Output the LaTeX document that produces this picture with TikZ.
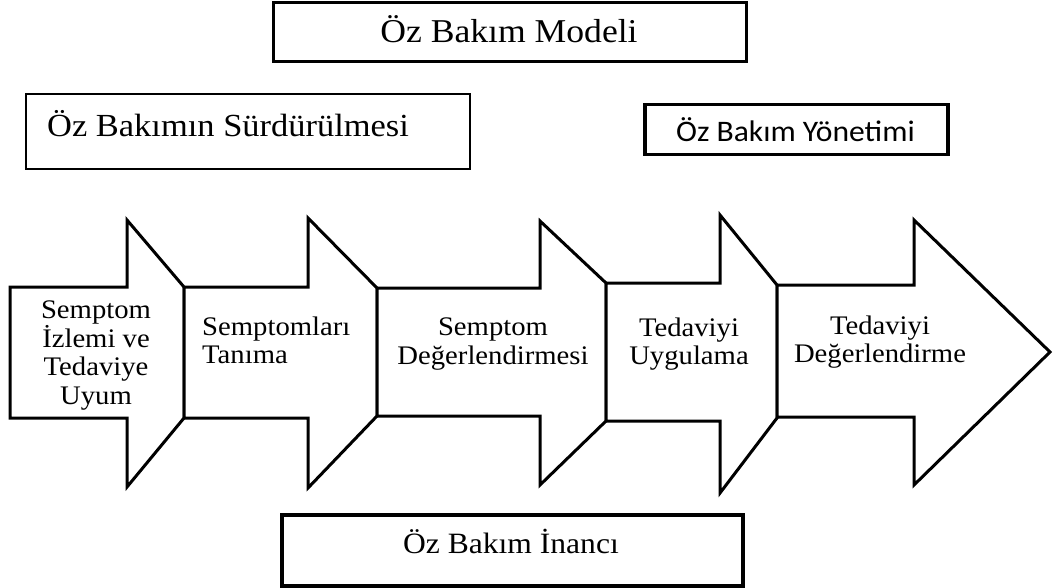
\documentclass[tikz,border=0pt]{standalone}
\usepackage{fontspec}
\setmainfont{Liberation Serif}[FakeStretch=1.07]
\newfontfamily\calibfont{Carlito}[FakeStretch=1.06]
\newcommand\arrfont{\fontsize{26.8}{28.5}\selectfont\lineskiplimit=-100pt\relax}
\begin{document}
\begin{tikzpicture}[x=1pt,y=-1pt,line join=miter]
\tikzset{
  arrowshape/.style={draw=black,line width=3pt,fill=white},
  box/.style={draw=black,inner sep=0pt,fill=white},
  arrtext/.style={inner sep=0pt,font=\arrfont,align=center,anchor=north},
  boxtext/.style={anchor=base,inner sep=0pt},
}
\useasboundingbox (0,0) rectangle (1056,588);
% arrows
\draw[arrowshape] (10,287) -- (127,287) -- (127,220) -- (184,287) -- (184,418) -- (127,487) -- (127,418) -- (10,418) -- cycle;
\draw[arrowshape] (184,287) -- (308,287) -- (308,218) -- (377,288) -- (377,416) -- (308,488) -- (308,418) -- (184,418) -- cycle;
\draw[arrowshape] (377,288) -- (540,288) -- (540,221) -- (606,283) -- (606,421) -- (540,485) -- (540,416) -- (377,416) -- cycle;
\draw[arrowshape] (606,283) -- (720,283) -- (720,215) -- (777,285) -- (777,418) -- (720,493) -- (720,421) -- (606,421) -- cycle;
\draw[arrowshape] (777,285) -- (914,285) -- (914,220) -- (1050,352) -- (914,485) -- (914,417) -- (777,417) -- cycle;
% arrow texts
\node[arrtext] (t1) at (96,300.6) {Semptom\\İzlemi ve\\Tedaviye\\Uyum};
\node[arrtext,anchor=north west,align=left] (t2) at (202,316.6) {Semptomları\\Tanıma};
\node[arrtext] (t3) at (493,317.6) {Semptom\\Değerlendirmesi};
\node[arrtext] (t4) at (689,317.6) {Tedaviyi\\Uygulama};
\node[arrtext] (t5) at (880,315.6) {Tedaviyi\\Değerlendirme};
% boxes
\node[box,line width=3pt,minimum width=473pt,minimum height=59pt] (model) at (509.5,32.5) {};
\node[boxtext,font=\fontsize{33.3}{38}\selectfont] (modeltxt) at (509,43) {Öz Bakım Modeli};
\node[box,line width=2pt,minimum width=444pt,minimum height=75pt] (surbox) at (248,131.5) {};
\node[boxtext,anchor=base west,font=\fontsize{32.2}{38}\selectfont] (surtxt) at (47,137) {Öz Bakımın Sürdürülmesi};
\node[box,line width=3.5pt,minimum width=303pt,minimum height=50pt] (yon) at (796.5,129.5) {};
\node[boxtext,font=\calibfont\fontsize{29.8}{34}\selectfont] (yontxt) at (795.5,142) {Öz Bakım Yönetimi};
\node[box,line width=4pt,minimum width=461pt,minimum height=71pt] (inbox) at (512.5,550.5) {};
\node[boxtext,font=\fontsize{29.5}{34}\selectfont] (intxt) at (511,553) {Öz Bakım İnancı};
\end{tikzpicture}
\end{document}
